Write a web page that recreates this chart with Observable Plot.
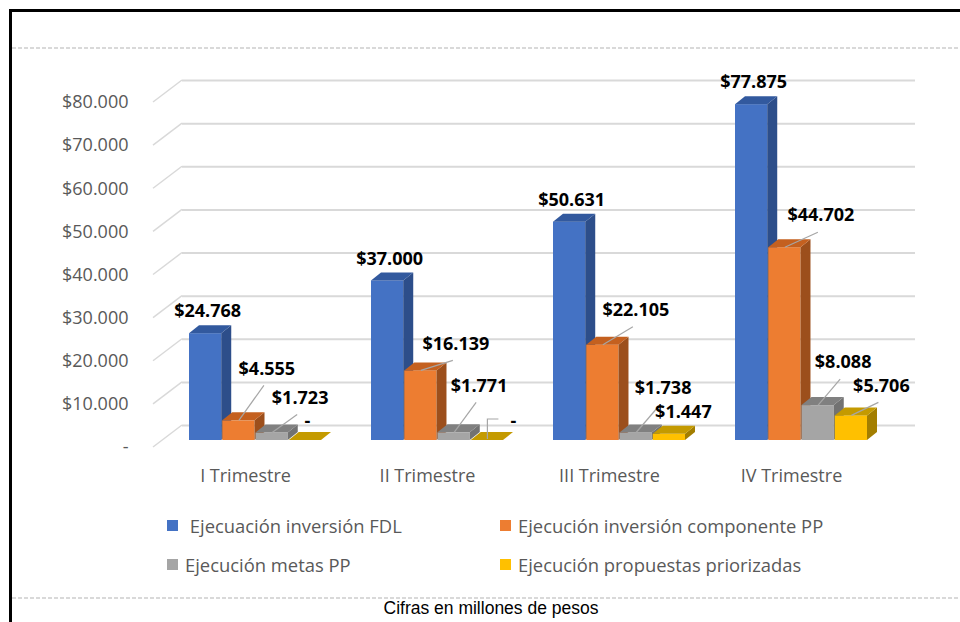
<!DOCTYPE html>
<html>
<head>
<meta charset="utf-8">
<script src="https://cdn.jsdelivr.net/npm/d3@7"></script>
<script src="https://cdn.jsdelivr.net/npm/@observablehq/plot@0.6"></script>
<style>
  html, body { margin: 0; padding: 0; background: #fff; }
  #wrap { position: relative; width: 960px; height: 622px; overflow: hidden; font-family: "Open Sans", sans-serif; }
  #chart { position: absolute; left: 0; top: 0; }
  .bline { position: absolute; background: #000; }
  .dots { position: absolute; left: 12px; right: 0; height: 2px;
          background: repeating-linear-gradient(to right, #d9d9d9 0 4px, transparent 4px 6px); }
  .leg { position: absolute; font-size: 18.4px; color: #595959; white-space: pre; line-height: 22px; }
  .leg i { position: absolute; width: 11px; height: 11px; top: 5px; }
  #caption { position: absolute; left: 0; width: 982px; top: 598px; text-align: center;
             font-family: "Liberation Sans Narrow", "Arial Narrow", "Liberation Sans", sans-serif;
             font-stretch: condensed; font-size: 17.5px; color: #000; }
</style>
</head>
<body>
<div id="wrap">
  <div class="bline" style="left:9px;top:9px;width:951px;height:2.5px"></div>
  <div class="bline" style="left:9px;top:9px;width:2.5px;height:613px"></div>
  <div class="dots" style="top:47px"></div>
  <div id="chart"></div>
  <div class="dots" style="top:597px"></div>
  <div id="legend"></div>
  <div id="caption">Cifras en millones de pesos</div>
</div>
<script>
// ---------- data ----------
const quarters = ["I Trimestre", "II Trimestre", "III Trimestre", "IV Trimestre"];
const seriesNames = [" Ejecuación inversión FDL", "Ejecución inversión componente PP", "Ejecución metas PP", "Ejecución propuestas priorizadas"];
const inversionFDL = [24768, 37000, 50631, 77875];
const componentePP = [4555, 16139, 22105, 44702];
const metasPP = [1723, 1771, 1738, 8088];
const propuestasPriorizadas = [0, 0, 1447, 5706];
const yTicks = [0, 10000, 20000, 30000, 40000, 50000, 60000, 70000, 80000];

// ---------- styles / layout ----------
const seriesValues = [inversionFDL, componentePP, metasPP, propuestasPriorizadas];
const faceColors = [
  {front: "#4472C4", top: "#32599E", side: "#2D4E8A"},
  {front: "#ED7D31", top: "#C4601F", side: "#9C4F1C"},
  {front: "#A5A5A5", top: "#808080", side: "#727272"},
  {front: "#FFC000", top: "#C49A00", side: "#A37E00"}
];
// label nudges (pixels, relative to the top-centre of each bar) and leader style
const labelNudge = [
  [[2, -22], [2, -22], [2, -22], [2, -22]],
  [[28, -52], [35, -27], [33, -35], [36, -32]],
  [[28, -35], [25, -47], [27, -45], [25, -43]],
  [[2, -19], [26, -19], [14, -22], [30, -30]]
];
const leaderStyle = [
  ["none", "none", "none", "none"],
  ["line", "line", "line", "line"],
  ["line", "line", "line", "line"],
  ["none", "elbow", "none", "line"]
];

const W = 960, H = 480, mL = 187, mR = 91, mT = 95, mB = 40;
const padInner = 0.273;
const step = (W - mL - mR) / (quarters.length - padInner);
const bandW = step * (1 - padInner);
const barW = bandW / 4;
const depth = {dx: 10, dy: -8};
const NS = "http://www.w3.org/2000/svg";

const loc = d3.formatLocale({decimal: ",", thousands: ".", grouping: [3], currency: ["$", ""]});
const money = loc.format("$,");
const fmt = v => v === 0 ? "-" : money(v);

function poly(points, fill) {
  const p = document.createElementNS(NS, "polygon");
  p.setAttribute("points", points.map(d => d.join(",")).join(" "));
  p.setAttribute("fill", fill);
  return p;
}

function bar3d(colors) {
  return function(index, scales, values, dimensions, context, next) {
    const g = next(index, scales, values, dimensions, context);
    for (const r of Array.from(g.querySelectorAll("rect"))) {
      const x = +r.getAttribute("x"), y = +r.getAttribute("y");
      const w = +r.getAttribute("width"), h = +r.getAttribute("height");
      const xr = x + w, yb = y + h, ox = depth.dx, oy = depth.dy;
      const side = poly([[xr, y], [xr + ox, y + oy], [xr + ox, yb + oy], [xr, yb]], colors.side);
      const top = poly([[x, y], [x + ox, y + oy], [xr + ox, y + oy], [xr, y]], colors.top);
      r.after(side);
      side.after(top);
    }
    return g;
  };
}

// table for Plot
const rows = [];
seriesValues.forEach((vals, j) => vals.forEach((v, i) => rows.push({quarter: quarters[i], series: j, qi: i, value: v})));

const marks = [];

// back-wall gridlines
marks.push(Plot.ruleY(yTicks, {dy: -15, insetLeft: -5, insetRight: -46, stroke: "#d9d9d9", strokeWidth: 2}));

// left-wall diagonals
marks.push((index, scales, values, dimensions) => {
  const g = document.createElementNS(NS, "g");
  for (const t of yTicks) {
    const y = scales.y(t);
    const l = document.createElementNS(NS, "line");
    l.setAttribute("x1", dimensions.marginLeft - 34);
    l.setAttribute("y1", y + 7);
    l.setAttribute("x2", dimensions.marginLeft - 5);
    l.setAttribute("y2", y - 15);
    l.setAttribute("stroke", "#d9d9d9");
    l.setAttribute("stroke-width", 1.5);
    g.appendChild(l);
  }
  return g;
});

// y axis labels
marks.push(Plot.axisY({ticks: yTicks, tickSize: 0, tickPadding: 59, dy: 7, tickFormat: fmt,
  fontSize: 18, fill: "#595959", label: null}));

// x axis labels
marks.push(Plot.axisX({tickSize: 0, tickPadding: 29, dx: -10, fontSize: 18, fill: "#595959", label: null}));

// 3D bars, one mark per series
seriesValues.forEach((vals, j) => {
  marks.push(Plot.barY(rows.filter(d => d.series === j), {
    x: "quarter", y: "value",
    insetLeft: j * barW, insetRight: (3 - j) * barW,
    fill: faceColors[j].front,
    render: bar3d(faceColors[j])
  }));
});

// data labels with leader lines
rows.forEach(d => {
  const j = d.series, i = d.qi;
  const [ndx, ndy] = labelNudge[j][i];
  const off = (j - 1.5) * barW;
  const style = leaderStyle[j][i];
  marks.push(Plot.text([d], {
    x: "quarter", y: "value", text: d => fmt(d.value),
    dx: off + ndx, dy: ndy,
    fontSize: 18, fontWeight: "bold", fill: "#000",
    textAnchor: "middle", lineAnchor: "middle",
    render(index, scales, values, dimensions, context, next) {
      const g = next(index, scales, values, dimensions, context);
      const wrap = document.createElementNS(NS, "g");
      if (style !== "none") {
        const k = index[0];
        const sx = scales.x(d.quarter) + bandW / 2 + off, sy = scales.y(d.value);
        const lx = sx + ndx, ly = sy + ndy;
        const pl = document.createElementNS(NS, "polyline");
        let pts;
        if (style === "elbow") pts = [[sx, sy - 1], [sx, ly - 2], [lx - 15, ly - 2]];
        else pts = [[sx, sy], [lx - 3, ly + 17]];
        pl.setAttribute("points", pts.map(p => p.join(",")).join(" "));
        pl.setAttribute("fill", "none");
        pl.setAttribute("stroke", "#A6A6A6");
        pl.setAttribute("stroke-width", 1.2);
        wrap.appendChild(pl);
      }
      wrap.appendChild(g);
      return wrap;
    }
  }));
});

const chart = Plot.plot({
  width: W, height: H,
  marginLeft: mL, marginRight: mR, marginTop: mT, marginBottom: mB,
  x: {type: "band", domain: quarters, paddingInner: padInner, paddingOuter: 0},
  y: {domain: [0, 80000]},
  style: {fontFamily: "'Open Sans', sans-serif", fontSize: "17px", color: "#595959", background: "transparent", overflow: "visible"},
  marks
});
document.getElementById("chart").appendChild(chart);

// legend (HTML)
const legPos = [[167, 515], [500, 515], [167, 554], [500, 554]];
const legend = document.getElementById("legend");
seriesNames.forEach((name, j) => {
  const it = document.createElement("div");
  it.className = "leg";
  it.style.left = legPos[j][0] + "px";
  it.style.top = legPos[j][1] + "px";
  it.style.paddingLeft = "18px";
  const sw = document.createElement("i");
  sw.style.left = "0px";
  sw.style.background = faceColors[j].front;
  it.appendChild(sw);
  it.appendChild(document.createTextNode(name));
  legend.appendChild(it);
});
</script>
</body>
</html>
